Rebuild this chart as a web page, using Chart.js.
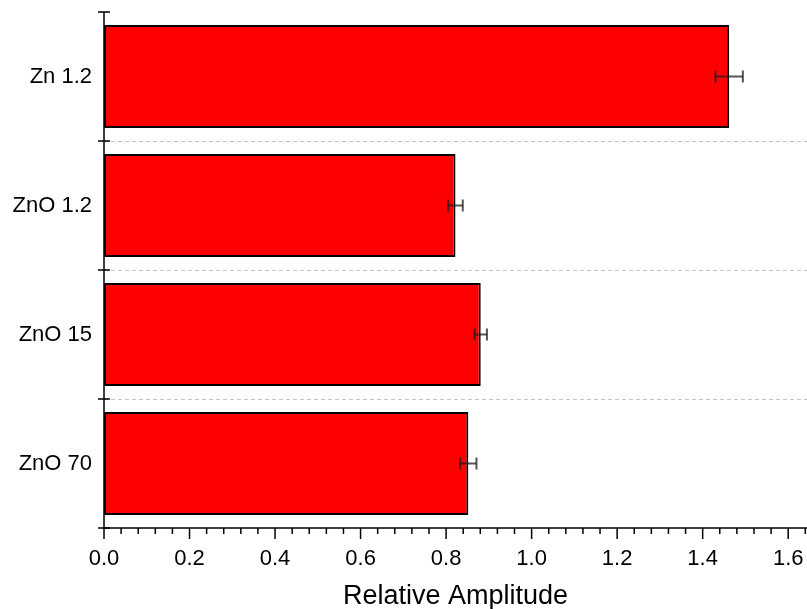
<!DOCTYPE html>
<html>
<head>
<meta charset="utf-8">
<script src="https://cdn.jsdelivr.net/npm/chart.js@4/dist/chart.umd.min.js"></script>
<style>
html,body{margin:0;padding:0;background:#fff;}
#wrap{width:807px;height:609px;position:relative;}
</style>
</head>
<body>
<div id="wrap"><canvas id="c" width="807" height="609"></canvas></div>
<script>
const categories = ['Zn 1.2', 'ZnO 1.2', 'ZnO 15', 'ZnO 70'];
const amplitudes = [1.462, 0.822, 0.881, 0.852];
const errors = [0.032, 0.017, 0.0145, 0.019];
const xTickStep = 0.2;
const xMinorPerMajor = 5;
const xMax = 1.644;

const FONT = '"Liberation Sans", Arial, sans-serif';

const axesPlugin = {
  id: 'axesPlugin',
  afterDatasetsDraw(chart) {
    const ctx = chart.ctx;
    const xs = chart.scales.x, ys = chart.scales.y;
    const ca = chart.chartArea;
    ctx.save();
    // dashed separators between categories
    ctx.strokeStyle = '#c4c4c4';
    ctx.lineWidth = 1;
    ctx.setLineDash([4, 3]);
    for (let i = 1; i < categories.length; i++) {
      const y = Math.round((ys.getPixelForValue(i - 1) + ys.getPixelForValue(i)) / 2) + 0.5;
      ctx.beginPath(); ctx.moveTo(ca.left, y); ctx.lineTo(ca.right, y); ctx.stroke();
    }
    ctx.setLineDash([]);
    // error bars
    const meta = chart.getDatasetMeta(0);
    ctx.strokeStyle = 'rgba(30,30,30,0.75)';
    amplitudes.forEach((v, i) => {
      const y = meta.data[i].y;
      const x1 = xs.getPixelForValue(v - errors[i]);
      const x2 = xs.getPixelForValue(v + errors[i]);
      ctx.lineWidth = 2;
      ctx.beginPath(); ctx.moveTo(x1, y); ctx.lineTo(x2, y); ctx.stroke();
      ctx.beginPath();
      ctx.moveTo(x1, y - 6); ctx.lineTo(x1, y + 6);
      ctx.moveTo(x2, y - 6); ctx.lineTo(x2, y + 6);
      ctx.stroke();
    });
    // axis lines
    ctx.strokeStyle = '#000';
    ctx.lineWidth = 1.5;
    ctx.beginPath(); ctx.moveTo(ca.left, ca.top); ctx.lineTo(ca.left, ca.bottom); ctx.stroke();
    ctx.beginPath(); ctx.moveTo(ca.left, ca.bottom); ctx.lineTo(ca.right, ca.bottom); ctx.stroke();
    // y ticks at category boundaries (crossing axis)
    for (let i = 0; i <= categories.length; i++) {
      let y;
      if (i === 0) y = ca.top;
      else if (i === categories.length) y = ca.bottom;
      else y = (ys.getPixelForValue(i - 1) + ys.getPixelForValue(i)) / 2;
      ctx.beginPath(); ctx.moveTo(ca.left - 6, y); ctx.lineTo(ca.left + 6, y); ctx.stroke();
    }
    // x ticks: major and minor (outward)
    const minorStep = xTickStep / xMinorPerMajor;
    const n = Math.floor(xMax / minorStep + 1e-6);
    for (let k = 0; k <= n; k++) {
      const v = k * minorStep;
      const x = xs.getPixelForValue(v);
      const major = k % xMinorPerMajor === 0;
      ctx.beginPath(); ctx.moveTo(x, ca.bottom); ctx.lineTo(x, ca.bottom + (major ? 11 : 6)); ctx.stroke();
    }
    ctx.restore();
  }
};

new Chart(document.getElementById('c'), {
  type: 'bar',
  data: {
    labels: categories,
    datasets: [{
      data: amplitudes,
      backgroundColor: '#ff0000',
      borderColor: '#000000',
      borderWidth: 2,
      borderSkipped: false,
      barPercentage: 0.8,
      categoryPercentage: 1.0
    }]
  },
  options: {
    indexAxis: 'y',
    responsive: false,
    animation: false,
    devicePixelRatio: 1,
    layout: { padding: { top: 12, right: 0, left: 0, bottom: 0 } },
    plugins: { legend: { display: false }, tooltip: { enabled: false } },
    scales: {
      x: {
        type: 'linear',
        min: 0,
        max: xMax,
        grid: { display: false, drawTicks: false },
        border: { display: false },
        ticks: {
          stepSize: xTickStep,
          includeBounds: false,
          color: '#000',
          font: { family: FONT, size: 22 },
          padding: 18,
          maxRotation: 0,
          callback: v => Number(v).toFixed(1)
        },
        title: {
          display: true,
          text: 'Relative Amplitude',
          color: '#000',
          font: { family: FONT, size: 27 },
          padding: { top: 0, bottom: -4 }
        },
        afterFit: s => { s.height = 81; s.paddingLeft = 0; s.paddingRight = 0; }
      },
      y: {
        offset: true,
        grid: { display: false, drawTicks: false },
        border: { display: false },
        ticks: {
          color: '#000',
          font: { family: FONT, size: 22 },
          padding: 12
        },
        afterFit: s => { s.width = 104; s.paddingTop = 0; s.paddingBottom = 0; }
      }
    }
  },
  plugins: [axesPlugin]
});
</script>
</body>
</html>
